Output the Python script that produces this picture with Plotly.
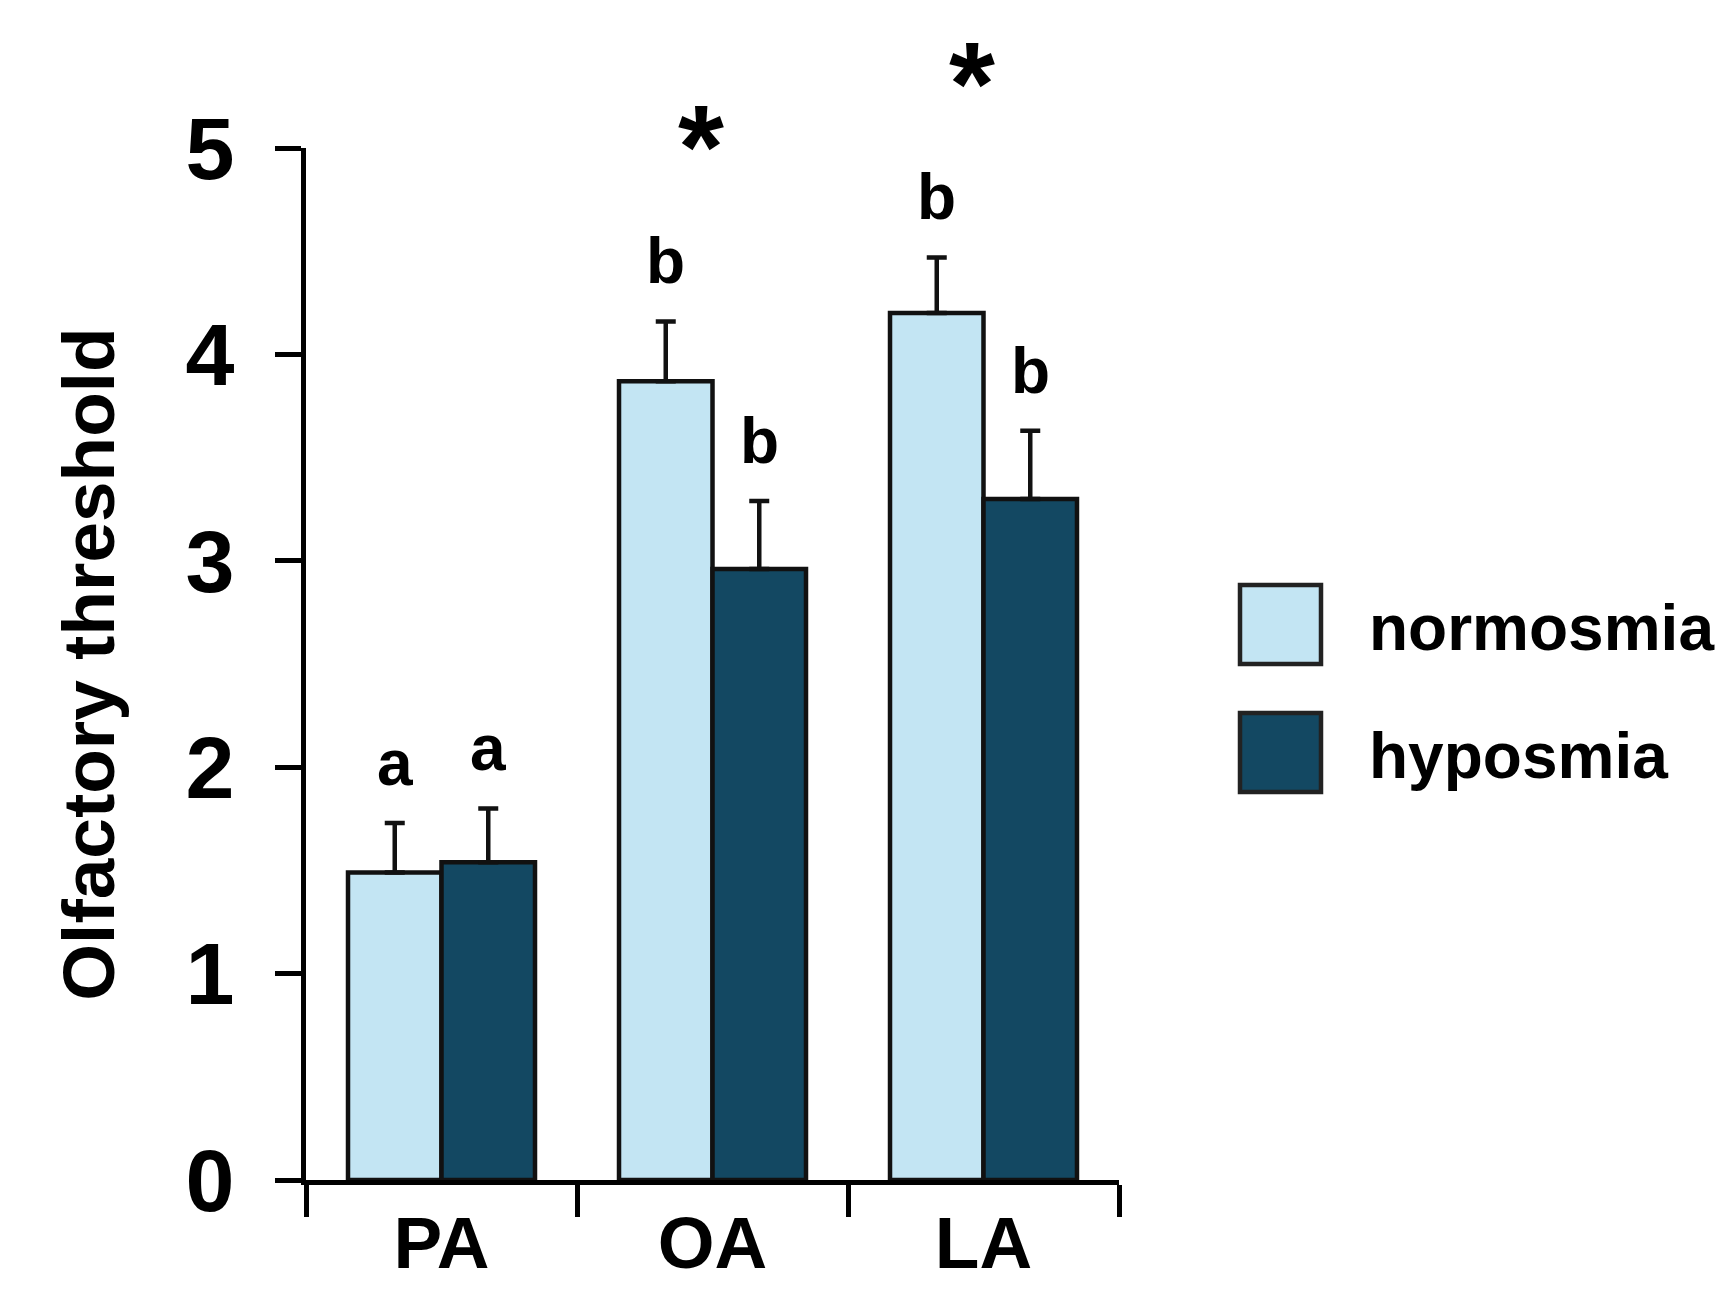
import plotly.graph_objects as go

# ---- data ----
categories = ["PA", "OA", "LA"]
series_names = ["normosmia", "hyposmia"]
normosmia = [1.49, 3.87, 4.20]
normosmia_err = [0.24, 0.29, 0.27]
hyposmia = [1.54, 2.96, 3.30]
hyposmia_err = [0.26, 0.33, 0.33]
normosmia_letters = ["a", "b", "b"]
hyposmia_letters = ["a", "b", "b"]
sig_categories = ["OA", "LA"]
sig_marks = ["*", "*"]
sig_y = [5.08, 5.39]
y_ticks = [0, 1, 2, 3, 4, 5]

# ---- style ----
LIGHT = "#C3E5F3"
DARK = "#134862"
EDGE = "#111111"
FONT = "Liberation Sans, Arial, sans-serif"
W, H = 1725, 1312
ML, MR, MT, MB = 298, 614, 140, 140
BARGAP = 0.31
YMAX = 5

PW = W - ML - MR
PH = H - MT - MB

fig = go.Figure()
fig.add_trace(go.Bar(
    name=series_names[0], x=categories, y=normosmia,
    marker=dict(color=LIGHT, line=dict(color=EDGE, width=4.5)),
    error_y=dict(type="data", array=normosmia_err, arrayminus=[0] * len(normosmia),
                 symmetric=False, color=EDGE, thickness=4.5, width=10),
))
fig.add_trace(go.Bar(
    name=series_names[1], x=categories, y=hyposmia,
    marker=dict(color=DARK, line=dict(color=EDGE, width=4.5)),
    error_y=dict(type="data", array=hyposmia_err, arrayminus=[0] * len(hyposmia),
                 symmetric=False, color=EDGE, thickness=4.5, width=10),
))

annotations = []
off = (1 - BARGAP) / 4
for i, cat in enumerate(categories):
    annotations.append(dict(x=i - off, xref="x", y=normosmia[i] + normosmia_err[i], yref="y",
                            text=normosmia_letters[i], showarrow=False, yanchor="bottom",
                            yshift=22, font=dict(family=FONT, size=64, color="black", weight="bold")))
    annotations.append(dict(x=i + off, xref="x", y=hyposmia[i] + hyposmia_err[i], yref="y",
                            text=hyposmia_letters[i], showarrow=False, yanchor="bottom",
                            yshift=22, font=dict(family=FONT, size=64, color="black", weight="bold")))

# significance asterisks above the axis range (y given in data units, placed via paper fraction)
AST_SIZE = 118
for cat, mark, v in zip(sig_categories, sig_marks, sig_y):
    annotations.append(dict(x=categories.index(cat), xref="x", y=v / YMAX, yref="paper",
                            text=mark, showarrow=False, yanchor="middle", xshift=-12,
                            yshift=-16,
                            font=dict(family=FONT, size=AST_SIZE, color="black", weight="bold")))

# manual legend (big swatches)
def px(xp):
    return (xp - ML) / PW
def py(yp):
    return (H - MB - yp) / PH

shapes = []
swatches = [(LIGHT, 577, series_names[0]), (DARK, 705, series_names[1])]
for col, top, name in swatches:
    shapes.append(dict(type="rect", xref="paper", yref="paper",
                       x0=px(1232), x1=px(1313), y0=py(top + 79), y1=py(top),
                       fillcolor=col, line=dict(color="#222222", width=4.5)))
    annotations.append(dict(x=px(1359), y=py(top + 43), xref="paper", yref="paper",
                            text=name, showarrow=False, xanchor="left", yanchor="middle",
                            font=dict(family=FONT, size=64, color="black", weight="bold")))

fig.update_layout(
    width=W, height=H,
    margin=dict(l=ML, r=MR, t=MT, b=MB, autoexpand=False),
    paper_bgcolor="white", plot_bgcolor="white",
    barmode="group", bargap=BARGAP, bargroupgap=0,
    showlegend=False,
    annotations=annotations, shapes=shapes,
    xaxis=dict(type="category", range=[-0.5, 2.5], showline=True, linecolor="black", linewidth=5,
               ticks="outside", ticklen=32, tickwidth=5, tickcolor="black", tickson="boundaries",
               ticklabelstandoff=-5,
               tickfont=dict(family=FONT, size=73, color="black", weight="bold"),
               showgrid=False, zeroline=False),
    yaxis=dict(range=[0, YMAX], tickvals=y_ticks, showline=True, linecolor="black", linewidth=5,
               ticks="outside", ticklen=26, tickwidth=5, tickcolor="black",
               tickfont=dict(family=FONT, size=88, color="black", weight="bold"),
               ticklabelstandoff=23, showgrid=False, zeroline=False,
               title=dict(text="Olfactory threshold", standoff=48,
                          font=dict(family=FONT, size=73, color="black", weight="bold"))),
)

fig.write_html("out.html")
